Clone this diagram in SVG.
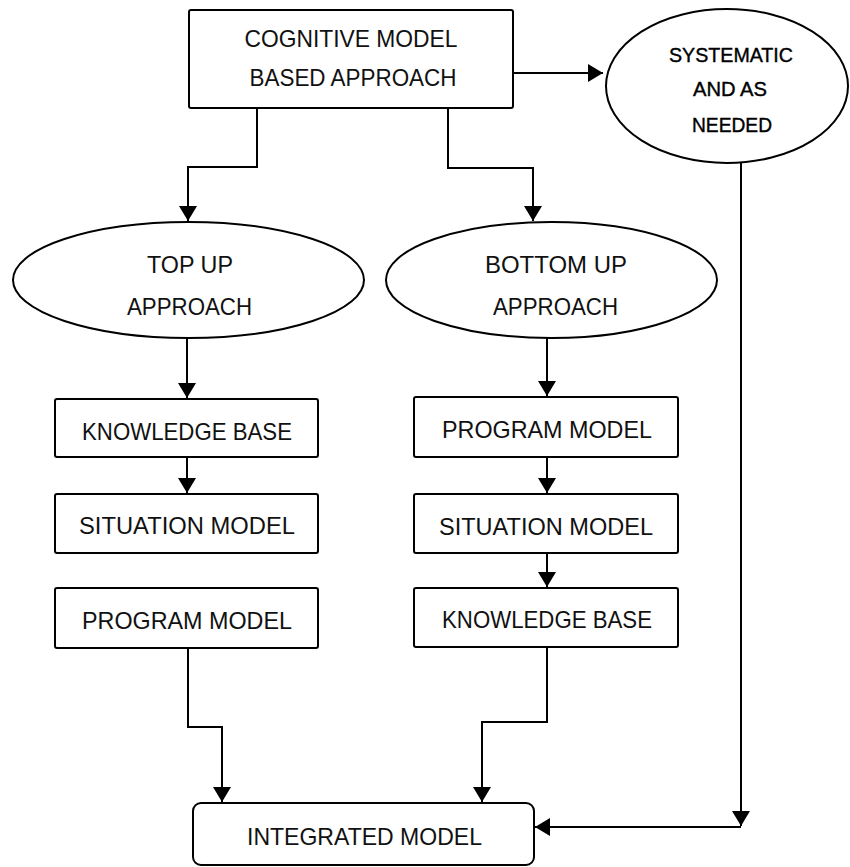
<svg xmlns="http://www.w3.org/2000/svg" width="850" height="867" viewBox="0 0 850 867">
<defs>
<marker id="arr" markerUnits="userSpaceOnUse" markerWidth="15" markerHeight="18" refX="15" refY="9" orient="auto" viewBox="0 0 15 18">
<path d="M0,0 L15,9 L0,18 z" fill="#000"/>
</marker>
<style>
.box{fill:#fff;stroke:#000;stroke-width:2}
.t{font-family:"Liberation Sans",Arial,sans-serif;font-size:24px;fill:#111;text-anchor:middle}
.s{font-family:"Liberation Sans",Arial,sans-serif;font-size:21px;fill:#000;stroke:#000;stroke-width:0.4;text-anchor:middle}
.c{fill:none;stroke:#000;stroke-width:2;marker-end:url(#arr)}
</style>
</defs>
<rect width="850" height="867" fill="#fff"/>
<g id="connectors">
<path class="c" d="M513,73 H603"/>
<path class="c" d="M257,108 V167 H188 V221"/>
<path class="c" d="M448,108 V168 H533 V221"/>
<path class="c" d="M187,338 V398"/>
<path class="c" d="M547,338 V396"/>
<path class="c" d="M187,457 V493"/>
<path class="c" d="M547,457 V493"/>
<path class="c" d="M547,553 V587"/>
<path class="c" d="M188,648 V727 H222 V802"/>
<path class="c" d="M547,647 V722 H482 V802"/>
<path class="c" d="M741,163 V826"/>
<path class="c" d="M741,827 H535"/>
</g>
<g id="cognitive">
<rect class="box" x="189" y="10" width="324" height="98" rx="2"/>
<text class="t" x="351" y="47" textLength="213" lengthAdjust="spacingAndGlyphs">COGNITIVE MODEL</text>
<text class="t" x="353" y="86" textLength="207" lengthAdjust="spacingAndGlyphs">BASED APPROACH</text>
</g>
<g id="systematic">
<ellipse class="box" cx="727" cy="86" rx="121" ry="77"/>
<text class="s" x="731" y="62" textLength="124" lengthAdjust="spacingAndGlyphs">SYSTEMATIC</text>
<text class="s" x="730" y="96" textLength="74" lengthAdjust="spacingAndGlyphs">AND AS</text>
<text class="s" x="732" y="132" textLength="80" lengthAdjust="spacingAndGlyphs">NEEDED</text>
</g>
<g id="topup">
<ellipse class="box" cx="188.5" cy="280" rx="175.5" ry="58"/>
<text class="t" x="190" y="273" textLength="86" lengthAdjust="spacingAndGlyphs">TOP UP</text>
<text class="t" x="189.5" y="315" textLength="125" lengthAdjust="spacingAndGlyphs">APPROACH</text>
</g>
<g id="bottomup">
<ellipse class="box" cx="551.5" cy="280" rx="165.5" ry="58"/>
<text class="t" x="556" y="273" textLength="142" lengthAdjust="spacingAndGlyphs">BOTTOM UP</text>
<text class="t" x="555.5" y="315" textLength="125" lengthAdjust="spacingAndGlyphs">APPROACH</text>
</g>
<g id="kb-left">
<rect class="box" x="55" y="399" width="263" height="58" rx="2"/>
<text class="t" x="187" y="440" textLength="210" lengthAdjust="spacingAndGlyphs">KNOWLEDGE BASE</text>
</g>
<g id="sit-left">
<rect class="box" x="55" y="494" width="263" height="59" rx="2"/>
<text class="t" x="187" y="534" textLength="216" lengthAdjust="spacingAndGlyphs">SITUATION MODEL</text>
</g>
<g id="prog-left">
<rect class="box" x="55" y="588" width="263" height="60" rx="2"/>
<text class="t" x="187" y="629" textLength="210" lengthAdjust="spacingAndGlyphs">PROGRAM MODEL</text>
</g>
<g id="prog-right">
<rect class="box" x="414" y="397" width="264" height="60" rx="2"/>
<text class="t" x="547" y="438" textLength="210" lengthAdjust="spacingAndGlyphs">PROGRAM MODEL</text>
</g>
<g id="sit-right">
<rect class="box" x="414" y="494" width="264" height="59" rx="2"/>
<text class="t" x="546" y="535" textLength="214" lengthAdjust="spacingAndGlyphs">SITUATION MODEL</text>
</g>
<g id="kb-right">
<rect class="box" x="414" y="588" width="264" height="59" rx="2"/>
<text class="t" x="547" y="628" textLength="210" lengthAdjust="spacingAndGlyphs">KNOWLEDGE BASE</text>
</g>
<g id="integrated">
<rect class="box" x="193" y="803" width="341" height="62" rx="8"/>
<text class="t" x="364.5" y="845" textLength="235" lengthAdjust="spacingAndGlyphs">INTEGRATED MODEL</text>
</g>
</svg>
